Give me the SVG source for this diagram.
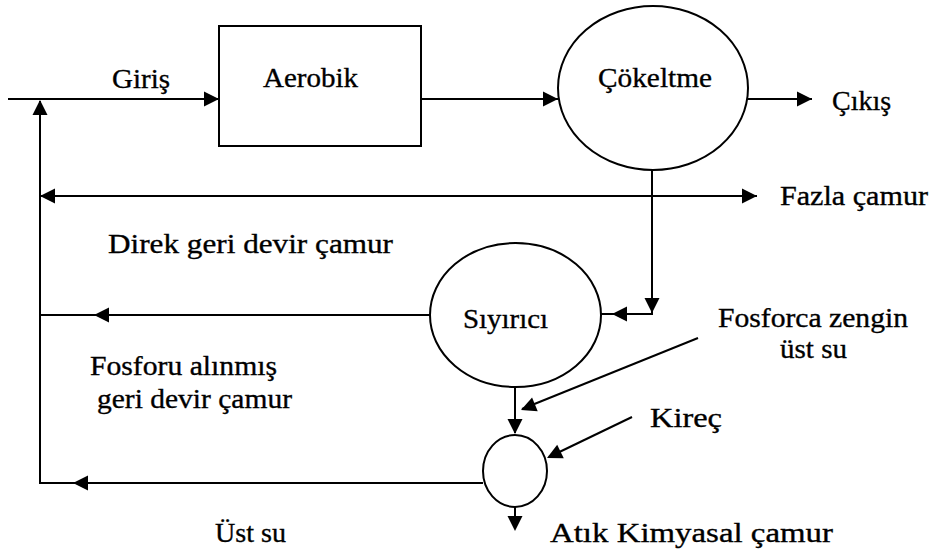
<svg xmlns="http://www.w3.org/2000/svg" xmlns:xlink="http://www.w3.org/1999/xlink" width="936" height="553" viewBox="0 0 936 553">
  <style>
    .ln { fill: none; stroke: #000; stroke-width: 2; }
    .nd { fill: #fff; stroke: #000; stroke-width: 2; }
    text { font-family: "Liberation Serif", serif; font-size: 28px; fill: #000; stroke: #000; stroke-width: 0.35; }
    .ah { fill: #000; }
  </style>
  <defs>
    <!-- arrowhead pointing right, tip at the origin -->
    <path id="ah" d="M0,0 L-15,-7.5 L-15,7.5 Z"/>
  </defs>
  <rect width="936" height="553" fill="#fff"/>

  <g id="connectors">
    <!-- inflow -->
    <line class="ln" x1="8" y1="99" x2="219" y2="99"/>
    <use class="ah" xlink:href="#ah" transform="translate(219,99)"/>
    <!-- aerobik to cokeltme -->
    <line class="ln" x1="421" y1="99" x2="558" y2="99"/>
    <use class="ah" xlink:href="#ah" transform="translate(558,99)"/>
    <!-- outflow -->
    <line class="ln" x1="747" y1="99" x2="812" y2="99"/>
    <use class="ah" xlink:href="#ah" transform="translate(812,99)"/>
    <!-- return main riser -->
    <line class="ln" x1="40" y1="101" x2="40" y2="484"/>
    <use class="ah" xlink:href="#ah" transform="translate(40,100) rotate(-90)"/>
    <!-- excess sludge / direct return -->
    <line class="ln" x1="40" y1="196" x2="757" y2="196"/>
    <use class="ah" xlink:href="#ah" transform="translate(757,196)"/>
    <use class="ah" xlink:href="#ah" transform="translate(40,196) rotate(180)"/>
    <!-- clarifier underflow to stripper -->
    <polyline class="ln" points="652,170 652,314 601,314"/>
    <use class="ah" xlink:href="#ah" transform="translate(652,313) rotate(90)"/>
    <use class="ah" xlink:href="#ah" transform="translate(612,314) rotate(180)"/>
    <!-- stripped return sludge -->
    <line class="ln" x1="430" y1="315" x2="40" y2="315"/>
    <use class="ah" xlink:href="#ah" transform="translate(94,315) rotate(180)"/>
    <!-- stripper to lime reactor -->
    <line class="ln" x1="515" y1="387" x2="515" y2="433"/>
    <use class="ah" xlink:href="#ah" transform="translate(515,434) rotate(90)"/>
    <!-- P-rich supernatant -->
    <line class="ln" x1="698" y1="338" x2="522" y2="409"/>
    <use class="ah" xlink:href="#ah" transform="translate(521,410) rotate(157.9)"/>
    <!-- lime dosing -->
    <line class="ln" x1="632" y1="417" x2="549" y2="457"/>
    <use class="ah" xlink:href="#ah" transform="translate(547,458) rotate(154)"/>
    <!-- supernatant return -->
    <line class="ln" x1="483" y1="483" x2="40" y2="483"/>
    <use class="ah" xlink:href="#ah" transform="translate(73,483) rotate(180)"/>
    <!-- chemical sludge out -->
    <line class="ln" x1="515" y1="507" x2="515" y2="528"/>
    <use class="ah" xlink:href="#ah" transform="translate(515,531) rotate(90)"/>
  </g>

  <g id="aerobik">
    <rect class="nd" x="219" y="26" width="202" height="120"/>
    <text x="263" y="87" textLength="95" lengthAdjust="spacingAndGlyphs">Aerobik</text>
  </g>

  <g id="cokeltme">
    <ellipse class="nd" cx="653" cy="88" rx="95" ry="82"/>
    <text x="598" y="87" textLength="114" lengthAdjust="spacingAndGlyphs">Çökeltme</text>
  </g>

  <g id="siyirici">
    <ellipse class="nd" cx="515.5" cy="315" rx="85.5" ry="72"/>
    <text x="463" y="328" textLength="85" lengthAdjust="spacingAndGlyphs">Sıyırıcı</text>
  </g>

  <g id="kirec-reaktor">
    <ellipse class="nd" cx="515" cy="471" rx="32" ry="36"/>
  </g>

  <g id="labels">
    <text x="112" y="88" textLength="58" lengthAdjust="spacingAndGlyphs">Giriş</text>
    <text x="832" y="110">Çıkış</text>
    <text x="780" y="205" textLength="148" lengthAdjust="spacingAndGlyphs">Fazla  çamur</text>
    <text x="108" y="253" textLength="285" lengthAdjust="spacingAndGlyphs">Direk geri devir çamur</text>
    <text x="718" y="327" textLength="190" lengthAdjust="spacingAndGlyphs">Fosforca zengin</text>
    <text x="780" y="358" textLength="67" lengthAdjust="spacingAndGlyphs">üst su</text>
    <text x="90" y="375" textLength="187" lengthAdjust="spacingAndGlyphs">Fosforu alınmış</text>
    <text x="97" y="408" textLength="195" lengthAdjust="spacingAndGlyphs">geri devir çamur</text>
    <text x="650" y="427" textLength="72" lengthAdjust="spacingAndGlyphs">Kireç</text>
    <text x="215" y="542" textLength="71" lengthAdjust="spacingAndGlyphs">Üst su</text>
    <text x="550" y="542" textLength="283" lengthAdjust="spacingAndGlyphs">Atık Kimyasal çamur</text>
  </g>
</svg>
